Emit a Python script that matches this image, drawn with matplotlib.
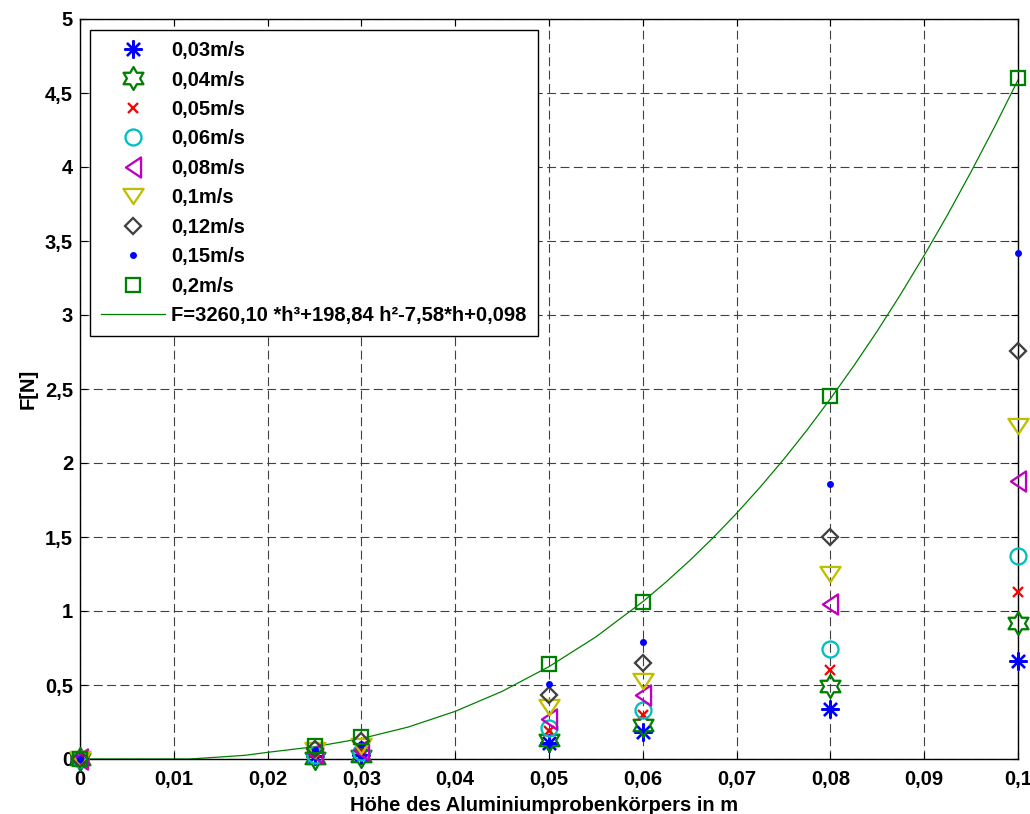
import numpy as np
import matplotlib
matplotlib.use("Agg")
import matplotlib.pyplot as plt
from matplotlib.path import Path

plt.rcParams['font.family'] = ['Liberation Sans', 'DejaVu Sans']
plt.rcParams['font.weight'] = 'bold'

# ---------------- data ----------------
h_pos = [0, 0.025, 0.03, 0.05, 0.06, 0.08, 0.1]
F_003 = [0, 0.02, 0.03, 0.11, 0.18, 0.34, 0.66]
F_004 = [0, 0.01, 0.02, 0.13, 0.23, 0.49, 0.92]
F_005 = [0, 0.05, 0.07, 0.19, 0.30, 0.60, 1.13]
F_006 = [0, 0.03, 0.05, 0.21, 0.33, 0.74, 1.37]
F_008 = [0, 0.04, 0.06, 0.27, 0.43, 1.05, 1.88]
F_010 = [0, 0.06, 0.09, 0.35, 0.53, 1.25, 2.25]
F_012 = [0, 0.07, 0.12, 0.43, 0.65, 1.50, 2.76]
F_015 = [0, 0.06, 0.10, 0.51, 0.79, 1.86, 3.42]
F_020 = [0, 0.09, 0.15, 0.64, 1.06, 2.45, 4.60]

speed_labels = ['0,03m/s', '0,04m/s', '0,05m/s', '0,06m/s', '0,08m/s',
                '0,1m/s', '0,12m/s', '0,15m/s', '0,2m/s']

# fitted curve
curve_h = [0, 0.0117, 0.0153, 0.0176, 0.02, 0.025, 0.03, 0.035, 0.04, 0.045,
           0.05, 0.055, 0.06, 0.0625, 0.065, 0.0675, 0.07, 0.0725, 0.075,
           0.0775, 0.08, 0.0825, 0.085, 0.0875, 0.09, 0.0925, 0.095, 0.0975,
           0.1]
curve_F = [0, 0, 0.015, 0.025, 0.045, 0.083, 0.138, 0.216, 0.322, 0.457,
           0.624, 0.825, 1.063, 1.197, 1.341, 1.495, 1.660, 1.836, 2.023,
           2.222, 2.434, 2.657, 2.892, 3.141, 3.403, 3.678, 3.968, 4.271,
           4.588]
fit_label = 'F=3260,10 *h³+198,84 h²-7,58*h+0,098'

x_ticks = [0, 0.01, 0.02, 0.03, 0.04, 0.05, 0.06, 0.07, 0.08, 0.09, 0.1]
x_ticklabels = ['0', '0,01', '0,02', '0,03', '0,04', '0,05', '0,06', '0,07',
                '0,08', '0,09', '0,1']
y_ticks = [0, 0.5, 1, 1.5, 2, 2.5, 3, 3.5, 4, 4.5, 5]
y_ticklabels = ['0', '0,5', '1', '1,5', '2', '2,5', '3', '3,5', '4', '4,5', '5']

# ---------------- marker shapes ----------------
hexagram = Path.unit_regular_star(6, 0.577)
tri_down = Path([(-1, 0.75), (1, 0.75), (0, -0.75), (-1, 0.75)],
                [Path.MOVETO, Path.LINETO, Path.LINETO, Path.CLOSEPOLY])
tri_left = Path([(0.75, 1), (0.75, -1), (-0.75, 0), (0.75, 1)],
                [Path.MOVETO, Path.LINETO, Path.LINETO, Path.CLOSEPOLY])

green = (0, 0.5, 0)
styles = [
    dict(marker=(8, 2, 0), ms=13, color=(0, 0, 1)),
    dict(marker=hexagram, ms=16.5, color=green),
    dict(marker='x', ms=7, color=(1, 0, 0)),
    dict(marker='o', ms=11.5, color=(0, 0.75, 0.75)),
    dict(marker=tri_left, ms=14.5, color=(0.75, 0, 0.75)),
    dict(marker=tri_down, ms=14.5, color=(0.75, 0.75, 0)),
    dict(marker='D', ms=8.4, color=(0.25, 0.25, 0.25)),
    dict(marker='o', ms=5, color=(0, 0, 1), filled=True),
    dict(marker='s', ms=9.4, color=green),
]
series = [F_003, F_004, F_005, F_006, F_008, F_010, F_012, F_015, F_020]

# ---------------- figure ----------------
fig = plt.figure(figsize=(10.30, 8.14), dpi=100)
ax = fig.add_axes([80 / 1030, 1 - 759 / 814, 938 / 1030, 740 / 814])

for vals, st, lab in zip(series, styles, speed_labels):
    if st.get('filled'):
        ax.plot(h_pos, vals, linestyle='none', marker=st['marker'],
                markersize=st['ms'], markerfacecolor=st['color'],
                markeredgewidth=0, color=st['color'], label=lab,
                clip_on=False, zorder=3)
    else:
        ax.plot(h_pos, vals, linestyle='none', marker=st['marker'],
                markersize=st['ms'], markerfacecolor='none',
                markeredgecolor=st['color'], markeredgewidth=1.65,
                color=st['color'], label=lab, clip_on=False, zorder=3)

ax.plot(curve_h, curve_F, color=green, linewidth=0.9, label=fit_label,
        clip_on=False, zorder=2.5)

ax.set_xlim(0, 0.1)
ax.set_ylim(0, 5)
ax.set_xticks(x_ticks)
ax.set_xticklabels(x_ticklabels)
ax.set_yticks(y_ticks)
ax.set_yticklabels(y_ticklabels)
ax.tick_params(direction='in', length=5, width=0.8, top=True, right=True,
               labelsize=14.5, colors='black')
ax.tick_params(axis='x', pad=8)
ax.tick_params(axis='y', pad=5)
for lab in ax.get_xticklabels() + ax.get_yticklabels():
    lab.set_fontweight('bold')

ax.grid(True, color='0.25', linestyle=(0, (8, 4)), linewidth=0.8)
ax.set_axisbelow(True)
for sp in ax.spines.values():
    sp.set_linewidth(1.0)
    sp.set_color('black')

ax.set_xlabel('Höhe des Aluminiumprobenkörpers in m', fontsize=14.5,
              fontweight='bold')
ax.xaxis.set_label_coords(0.495, -0.0703)
ax.xaxis.label.set_va('baseline')
ax.set_ylabel('F[N]', fontsize=14.5, fontweight='bold')
ax.yaxis.set_label_coords(-0.045, 0.5)

leg = ax.legend(loc='upper left', bbox_to_anchor=(90 / 1030, 1 - 30 / 814),
                bbox_transform=fig.transFigure, borderaxespad=0,
                prop={'weight': 'bold', 'size': 14.5},
                numpoints=1, handlelength=3.15, handletextpad=0.33,
                borderpad=0.55, labelspacing=0.52, fancybox=False,
                framealpha=1, edgecolor='black')
leg.get_frame().set_linewidth(1.0)

fig.savefig('out.png', dpi=100)
